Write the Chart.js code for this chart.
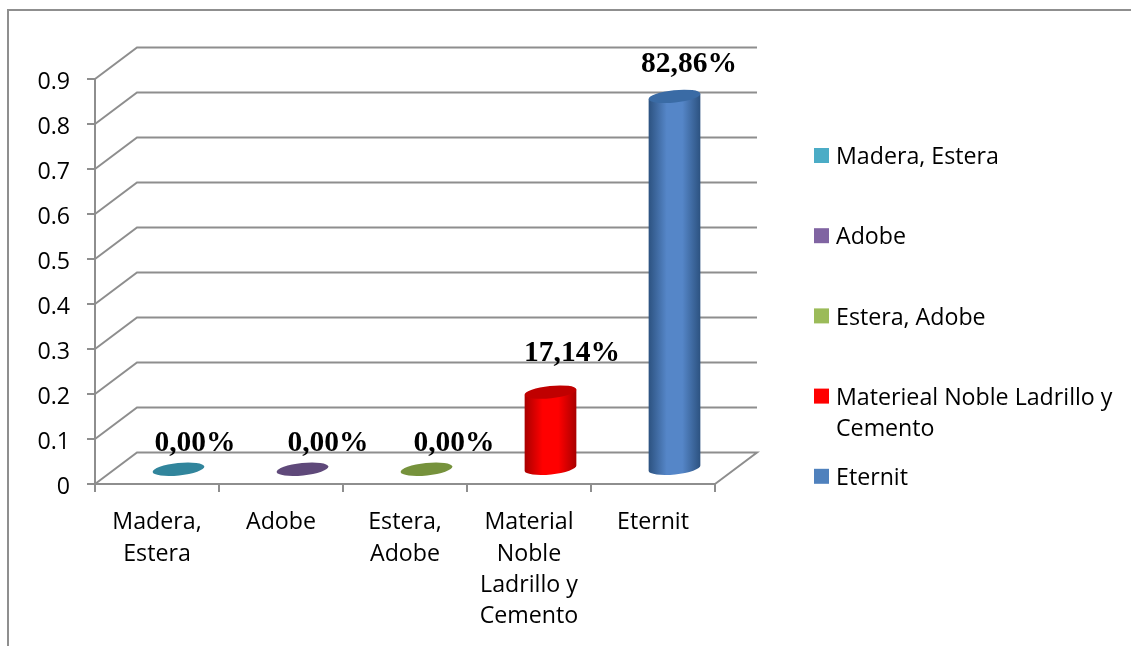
<!DOCTYPE html>
<html>
<head>
<meta charset="utf-8">
<style>
  body { margin: 0; background: #fff; }
  canvas { display: block; }
</style>
<script src="https://cdn.jsdelivr.net/npm/chart.js@4"></script>
</head>
<body>
<canvas id="myChart" width="1131" height="646"></canvas>
<script>
// Datos del grafico
const categorias = [['Madera,', 'Estera'], 'Adobe', ['Estera,', 'Adobe'], ['Material', 'Noble', 'Ladrillo y', 'Cemento'], 'Eternit'];
const valores = [0, 0, 0, 0.1714, 0.8286];
const leyenda = [['Madera, Estera'], ['Adobe'], ['Estera, Adobe'], ['Materieal Noble Ladrillo y', 'Cemento'], ['Eternit']];
const coloresLeyenda = ['#4bacc6', '#8064a2', '#9bbb59', '#ff0000', '#4f81bd'];
const coloresTapa = ['#31859c', '#5f497a', '#76923c', '#c00000', '#3a6ba5'];
const coloresBorde = ['#31859c', '#5f497a', '#76923c', '#a80000', '#2c5280'];
const coloresCentro = ['#31859c', '#5f497a', '#76923c', '#ff0000', '#5586c8'];

const GRIS = '#8e8e8e';
const FUENTE = '"Open Sans"';
const TAM = 23.2;
// profundidad de la caja 3D
const fondoX = 42;
const fondoY = -31.5;
// las etiquetas estan movidas a mano en el original
const etiquetaDx = [38, 47, 49, 43, 36];
const etiquetaDy = [-41, -41, -41, -53, -47];

// Marco, paredes y piso
const caja3D = {
    id: 'caja3D',
    beforeDatasetsDraw(chart) {
        const c = chart.ctx;
        const y = chart.scales.y;
        const a = chart.chartArea;
        c.save();
        c.fillStyle = '#8f8f8f';
        c.fillRect(7, 9, 1124, 2);
        c.fillRect(7, 9, 2, 637);
        c.strokeStyle = GRIS;
        c.lineWidth = 2;
        for (const t of y.ticks) {
            const py = y.getPixelForValue(t.value);
            c.beginPath();
            c.moveTo(a.left, py);
            c.lineTo(a.left + fondoX, py + fondoY);
            c.lineTo(a.right + fondoX, py + fondoY);
            if (t.value === 0) {
                c.lineTo(a.right, py);
            }
            c.stroke();
        }
        c.restore();
    }
};

function cilindro(c, x, arriba, abajo, i) {
    const rx = 26;
    const ry = 6.2;
    const rot = -6 * Math.PI / 180;
    const dx = rx * Math.cos(rot);
    const dy = rx * Math.sin(rot);
    if (abajo - arriba > 1) {
        const g = c.createLinearGradient(x - rx, 0, x + rx, 0);
        g.addColorStop(0, coloresBorde[i]);
        g.addColorStop(0.35, coloresCentro[i]);
        g.addColorStop(0.65, coloresCentro[i]);
        g.addColorStop(1, coloresBorde[i]);
        c.fillStyle = g;
        c.beginPath();
        c.moveTo(x - dx, arriba - dy);
        c.lineTo(x - dx, abajo - dy);
        c.ellipse(x, abajo, rx, ry, rot, Math.PI, 0, true);
        c.lineTo(x + dx, arriba + dy);
        c.closePath();
        c.fill();
    }
    c.fillStyle = coloresTapa[i];
    c.beginPath();
    c.ellipse(x, arriba, rx, ry, rot, 0, Math.PI * 2);
    c.fill();
}

// Cilindros y etiquetas, a partir de las barras que calcula Chart.js
const cilindros = {
    id: 'cilindros',
    afterDatasetsDraw(chart) {
        const c = chart.ctx;
        const barras = chart.getDatasetMeta(0).data;
        c.save();
        barras.forEach((b, i) => {
            cilindro(c, b.x + fondoX / 2 + 0.5, b.y + fondoY / 2 + 1, b.base + fondoY / 2 + 1, i);
        });
        c.fillStyle = '#000';
        c.font = 'bold 29.5px "Liberation Serif"';
        c.textAlign = 'center';
        c.textBaseline = 'middle';
        barras.forEach((b, i) => {
            const texto = (valores[i] * 100).toFixed(2).replace('.', ',') + '%';
            c.fillText(texto, b.x + etiquetaDx[i], b.y + etiquetaDy[i]);
        });
        c.restore();
    }
};

const leyendaLateral = {
    id: 'leyendaLateral',
    afterDraw(chart) {
        const c = chart.ctx;
        c.save();
        c.font = TAM + 'px ' + FUENTE;
        c.textBaseline = 'middle';
        leyenda.forEach((lineas, i) => {
            const y = 156 + i * 80.2;
            c.fillStyle = coloresLeyenda[i];
            c.fillRect(814, y - 8, 15, 15);
            c.fillStyle = '#000';
            lineas.forEach((l, j) => c.fillText(l, 836, y + 1.5 + j * 31));
        });
        c.restore();
    }
};

new Chart(document.getElementById('myChart'), {
    type: 'bar',
    data: {
        labels: categorias,
        datasets: [{
            data: valores,
            backgroundColor: 'transparent',
            barThickness: 52
        }]
    },
    plugins: [caja3D, cilindros, leyendaLateral],
    options: {
        responsive: false,
        animation: false,
        layout: { padding: { top: 79, right: 416, left: 0, bottom: 0 } },
        plugins: {
            legend: { display: false },
            tooltip: { enabled: false }
        },
        scales: {
            x: {
                afterFit(s) { s.height = 162; },
                grid: { drawOnChartArea: false, color: GRIS, lineWidth: 2, tickLength: 8 },
                border: { color: GRIS, width: 2 },
                ticks: {
                    color: '#000',
                    maxRotation: 0,
                    padding: 15,
                    font: { family: FUENTE, size: TAM, lineHeight: '31.3px' }
                }
            },
            y: {
                min: 0,
                max: 0.9,
                afterFit(s) { s.width = 95; },
                grid: { drawOnChartArea: false, color: GRIS, lineWidth: 2, tickLength: 8 },
                border: { color: GRIS, width: 2 },
                ticks: {
                    stepSize: 0.1,
                    color: '#000',
                    padding: 17,
                    // linea vacia arriba para bajar el texto unos px respecto a la marca
                    callback: (v) => ['', v === 0 ? '0' : v.toFixed(1)],
                    font: { family: FUENTE, size: TAM, lineHeight: '7px' }
                }
            }
        }
    }
});
</script>
</body>
</html>
